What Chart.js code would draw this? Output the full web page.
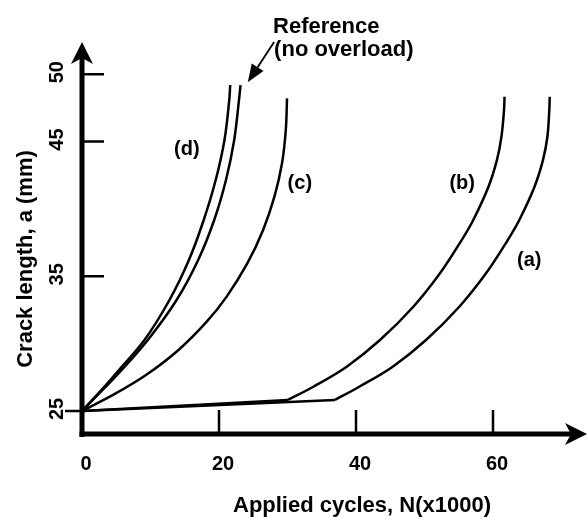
<!DOCTYPE html>
<html>
<head>
<meta charset="utf-8">
<script src="https://cdn.jsdelivr.net/npm/chart.js@4.4.1/dist/chart.umd.min.js"></script>
<style>
  html, body { margin: 0; padding: 0; background: #fff; }
  #wrap { width: 587px; height: 517px; }
</style>
</head>
<body>
<div id="wrap"><canvas id="crackChart" width="587" height="517"></canvas></div>
<script>
// crack length a (mm) against applied cycles N (x1000)
const xTicks = [0, 20, 40, 60];
const yTicks = [25, 35, 45, 50];

// (d)
const cyclesD = [0, 2.86, 5.40, 9.12, 12.77, 15.61, 17.77, 19.52, 20.80, 21.50, 21.64];
const lengthD = [25, 26.56, 28.04, 30.27, 33.24, 36.21, 39.18, 42.15, 45.12, 48.09, 49.20];
// reference, no overload
const cyclesRef = [0, 3.01, 5.80, 9.61, 13.81, 16.96, 19.30, 21.02, 22.22, 22.92, 23.14];
const lengthRef = [25, 26.56, 28.04, 30.27, 33.24, 36.21, 39.18, 42.15, 45.12, 48.09, 49.20];
// (c)
const cyclesC = [0, 4.53, 9.34, 14.09, 18.18, 21.12, 24.15, 26.44, 28.09, 29.20, 29.75, 29.93];
const lengthC = [25, 26.19, 27.67, 29.53, 31.61, 33.49, 35.97, 38.44, 40.91, 43.39, 45.86, 48.21];
// (b): retarded stretch, then growth
const cyclesBFlat = [0, 30.07];
const lengthBFlat = [25, 25.82];
const cyclesB = [30.07, 33.77, 38.64, 43.50, 48.37, 52.26, 55.43, 57.12, 59.34, 60.58, 61.23, 61.61, 61.68];
const lengthB = [25.82, 26.80, 28.29, 30.27, 32.74, 35.22, 37.69, 39.18, 41.65, 43.64, 45.36, 47.35, 48.33];
// (a): retarded stretch, then growth
const cyclesAFlat = [0, 36.93];
const lengthAFlat = [25, 25.82];
const cyclesA = [36.93, 40.48, 45.36, 50.22, 55.08, 58.98, 62.15, 63.84, 66.06, 67.30, 67.94, 68.22, 68.28];
const lengthA = [25.82, 26.80, 28.29, 30.27, 32.74, 35.22, 37.69, 39.18, 41.65, 43.64, 45.36, 47.35, 48.33];

const toPoints = (xs, ys) => xs.map((v, i) => ({ x: v, y: ys[i] }));

function curve(xs, ys, tension) {
  return {
    data: toPoints(xs, ys),
    showLine: true,
    borderColor: '#000',
    borderWidth: 2.5,
    pointRadius: 0,
    tension: tension,
    fill: false
  };
}

const boldFont = size => `bold ${size}px "Liberation Sans", Arial, Helvetica, sans-serif`;

// axes with arrows, inside tick marks, labels and annotations
const axisDecor = {
  id: 'axisDecor',
  afterDraw(chart) {
    const { ctx, chartArea: area, scales: { x, y } } = chart;
    const x0 = x.getPixelForValue(0);
    const yBase = area.bottom;

    ctx.save();
    ctx.fillStyle = '#000';
    ctx.strokeStyle = '#000';

    // y axis + arrow
    ctx.fillRect(x0 - 2.5, 58, 5, yBase + 3 - 58);
    ctx.beginPath();
    ctx.moveTo(x0, 42);
    ctx.lineTo(x0 + 11, 64);
    ctx.lineTo(x0, 58);
    ctx.lineTo(x0 - 11, 64);
    ctx.closePath();
    ctx.fill();

    // x axis + arrow
    ctx.fillRect(x0 - 2.5, yBase - 2.5, 575 - x0, 5);
    ctx.beginPath();
    ctx.moveTo(587, yBase);
    ctx.lineTo(565, yBase - 11);
    ctx.lineTo(571, yBase);
    ctx.lineTo(565, yBase + 11);
    ctx.closePath();
    ctx.fill();

    // tick marks: the lowest y tick points outward, the rest inward
    ctx.lineWidth = 2.5;
    ctx.beginPath();
    yTicks.forEach((v, i) => {
      const py = y.getPixelForValue(v);
      if (i === 0) {
        ctx.moveTo(x0 - 17, py);
        ctx.lineTo(x0, py);
      } else {
        ctx.moveTo(x0 + 2, py);
        ctx.lineTo(x0 + 22, py);
      }
    });
    const yTop = y.getPixelForValue(yTicks[0]);
    xTicks.slice(1).forEach(v => {
      const px = x.getPixelForValue(v);
      ctx.moveTo(px, yBase);
      ctx.lineTo(px, yTop - 1);
    });
    ctx.stroke();

    // tick labels
    ctx.font = boldFont(20);
    ctx.textAlign = 'center';
    ctx.textBaseline = 'middle';
    xTicks.forEach(v => {
      ctx.fillText(String(v), x.getPixelForValue(v) + 4, yBase + 30);
    });
    yTicks.forEach(v => {
      ctx.save();
      ctx.translate(x0 - 25, y.getPixelForValue(v) - 2);
      ctx.rotate(-Math.PI / 2);
      ctx.fillText(String(v), 0, 0);
      ctx.restore();
    });

    // axis titles
    ctx.font = boldFont(22);
    ctx.textBaseline = 'alphabetic';
    ctx.fillText('Applied cycles, N(x1000)', 362, 512);
    ctx.save();
    ctx.translate(32, 259);
    ctx.rotate(-Math.PI / 2);
    ctx.fillText('Crack length, a (mm)', 0, 0);
    ctx.restore();

    // curve labels
    ctx.font = boldFont(20);
    ctx.textBaseline = 'middle';
    const tags = [['(d)', 15.3, 44.4], ['(c)', 31.8, 41.9], ['(b)', 55.5, 41.9], ['(a)', 65.3, 36.2]];
    tags.forEach(([t, vx, vy]) => {
      ctx.fillText(t, x.getPixelForValue(vx), y.getPixelForValue(vy));
    });

    // reference note with pointer arrow
    ctx.font = boldFont(22);
    ctx.textAlign = 'left';
    ctx.textBaseline = 'alphabetic';
    const noteX = x.getPixelForValue(27.9);
    ctx.fillText('Reference', noteX, 33);
    ctx.fillText('(no overload)', noteX + 1, 56);

    const tipX = x.getPixelForValue(24.2), tipY = y.getPixelForValue(49.4);
    const fromX = noteX + 1, fromY = 42;
    const len = Math.hypot(tipX - fromX, tipY - fromY);
    const ux = (tipX - fromX) / len, uy = (tipY - fromY) / len;
    const bx = tipX - ux * 18, by = tipY - uy * 18;
    ctx.lineWidth = 1.8;
    ctx.beginPath();
    ctx.moveTo(fromX, fromY);
    ctx.lineTo(bx, by);
    ctx.stroke();
    ctx.beginPath();
    ctx.moveTo(tipX, tipY);
    ctx.lineTo(bx - uy * 7, by + ux * 7);
    ctx.lineTo(bx + uy * 7, by - ux * 7);
    ctx.closePath();
    ctx.fill();

    ctx.restore();
  }
};

new Chart(document.getElementById('crackChart'), {
  type: 'scatter',
  data: {
    datasets: [
      curve(cyclesD, lengthD, 0.35),
      curve(cyclesRef, lengthRef, 0.35),
      curve(cyclesC, lengthC, 0.35),
      curve(cyclesBFlat, lengthBFlat, 0),
      curve(cyclesB, lengthB, 0.35),
      curve(cyclesAFlat, lengthAFlat, 0),
      curve(cyclesA, lengthA, 0.35)
    ]
  },
  options: {
    responsive: false,
    animation: false,
    devicePixelRatio: 1,
    layout: { padding: { left: 82, right: 7, top: 50, bottom: 83 } },
    plugins: {
      legend: { display: false },
      tooltip: { enabled: false }
    },
    scales: {
      x: { type: 'linear', min: 0, max: 72.7, display: false },
      y: { type: 'linear', min: 23.29, max: 51.8, display: false }
    }
  },
  plugins: [axisDecor]
});
</script>
</body>
</html>
